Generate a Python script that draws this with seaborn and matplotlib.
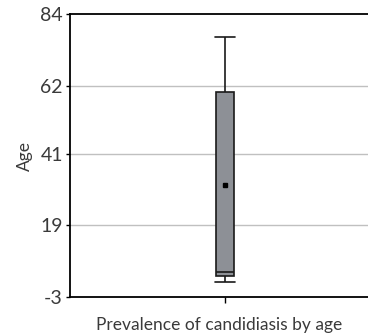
import matplotlib
matplotlib.use("Agg")
import matplotlib.pyplot as plt
import seaborn as sns
import pandas as pd

# Ages (sample shaped to reproduce the drawn box: min, Q1, median, Q3, max, mean)
ages = [1.5, 2.5, 3.6, 4.2, 4.8, 55.0, 60.0, 74.9, 77.0]
group = ["Prevalence of candidiasis by age"] * len(ages)
y_ticks = [-3, 19, 41, 62, 84]

df = pd.DataFrame({"group": group, "Age": ages})

sns.set_theme(style="white")
plt.rcParams["font.family"] = ["Lato", "DejaVu Sans"]

fig = plt.figure(figsize=(3.68, 3.36), dpi=100)
ax = fig.add_axes([0.19, 0.116, 0.81, 0.842])

sns.boxplot(data=df, y="Age", ax=ax, width=0.06, whis=(0, 100),
            color="#8c8f97", linecolor="#1a1a1a", linewidth=1.2,
            showmeans=True,
            meanprops=dict(marker="s", markerfacecolor="black",
                           markeredgecolor="black", markersize=3.5),
            capwidths=0.068)

ax.set_xlim(-0.52, 0.48)
ax.set_ylim(-3, 84)
ax.set_yticks(y_ticks)
ax.set_yticklabels([str(t) for t in y_ticks])
ax.set_xticks([0])
ax.set_xticklabels([])
ax.set_xlabel(group[0], fontsize=12.5, color="#3a3a3a", labelpad=7)
ax.set_ylabel("Age", fontsize=12.5, color="#3a3a3a", labelpad=5)

for t in y_ticks[1:4]:
    ax.axhline(t, color="#c0c0c0", linewidth=1, zorder=0)

ax.tick_params(axis="y", length=3, width=1, color="black", labelsize=14,
               labelcolor="#3a3a3a", left=True, pad=2)
ax.tick_params(axis="x", length=4, width=1, color="black", bottom=True)

for s in ["left", "bottom", "top"]:
    ax.spines[s].set_color("black")
    ax.spines[s].set_linewidth(1.3)
ax.spines["right"].set_visible(False)

fig.savefig("out.png", dpi=100)
